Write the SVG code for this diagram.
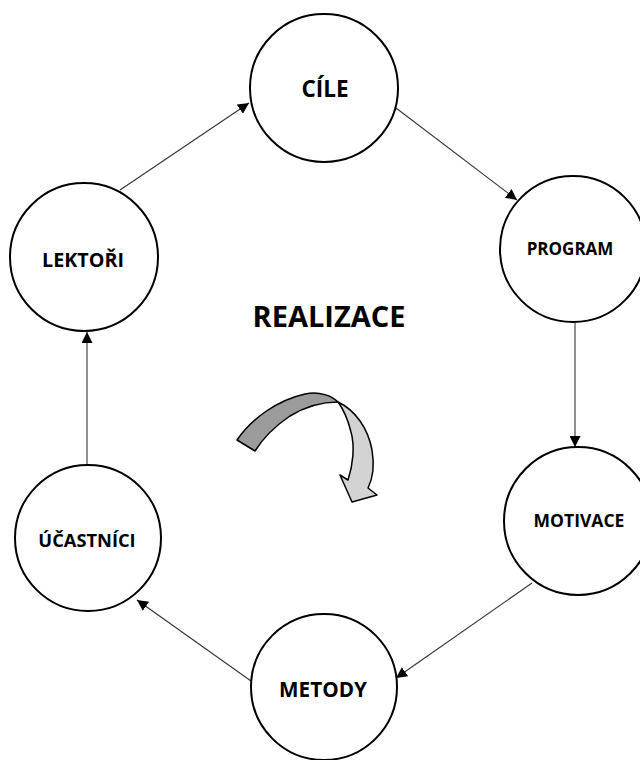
<svg xmlns="http://www.w3.org/2000/svg" width="640" height="760" viewBox="0 0 640 760">
<style>
.node circle{fill:#fff;stroke:#000;stroke-width:2}
.lbl{font-family:"Open Sans","Liberation Sans",sans-serif;font-weight:bold;fill:#000;text-anchor:middle}
.conn line{stroke:#333;stroke-width:1.1;marker-end:url(#ah)}
</style>
<defs>
<marker id="ah" viewBox="0 0 10 10" refX="10" refY="5" markerWidth="11" markerHeight="11" markerUnits="userSpaceOnUse" orient="auto">
<path d="M0,0 L10,5 L0,10 Z" fill="#000"/>
</marker>
</defs>
<rect width="640" height="760" fill="#fff"/>
<g id="connectors" class="conn">
<line x1="120" y1="190" x2="249" y2="103"/>
<line x1="396" y1="108" x2="517" y2="200"/>
<line x1="575" y1="323" x2="575" y2="447"/>
<line x1="532" y1="583" x2="396" y2="678"/>
<line x1="251" y1="681" x2="137" y2="600"/>
<line x1="87" y1="465" x2="87" y2="332"/>
</g>
<g id="cile" class="node"><circle cx="324" cy="88" r="74"/><text class="lbl" x="325" y="97" font-size="22.5">CÍLE</text></g>
<g id="program" class="node"><circle cx="573" cy="249" r="73"/><text class="lbl" x="570" y="255" font-size="17">PROGRAM</text></g>
<g id="motivace" class="node"><circle cx="578" cy="521" r="74"/><text class="lbl" x="579" y="527" font-size="17.5">MOTIVACE</text></g>
<g id="metody" class="node"><circle cx="324" cy="687" r="73"/><text class="lbl" x="323" y="697" font-size="20.7">METODY</text></g>
<g id="ucastnici" class="node"><circle cx="88" cy="538" r="73"/><text class="lbl" x="87" y="547" font-size="18.3">ÚČASTNÍCI</text></g>
<g id="lektori" class="node"><circle cx="84" cy="257" r="74"/><text class="lbl" x="83" y="267" font-size="19.7">LEKTOŘI</text></g>
<g id="realizace"><text class="lbl" x="329" y="327" font-size="29">REALIZACE</text></g>
<g id="curved-arrow" stroke="#000" stroke-width="1.5" stroke-linejoin="round">
<path d="M237,440 C252,418 278,400 305,394 C320,391 332,396 338,402 C325,402 308,405 290,416 C275,426 262,440 255,451 Z" fill="#9b9b9b"/>
<path d="M338,402 C355,410 368,428 372,450 C375,468 372,480 368,488 L377,495 L352,502 L340,475 L348,480 C353,465 355,446 351,432 C348,420 344,410 338,402 Z" fill="#d3d3d3"/>
</g>
</svg>
